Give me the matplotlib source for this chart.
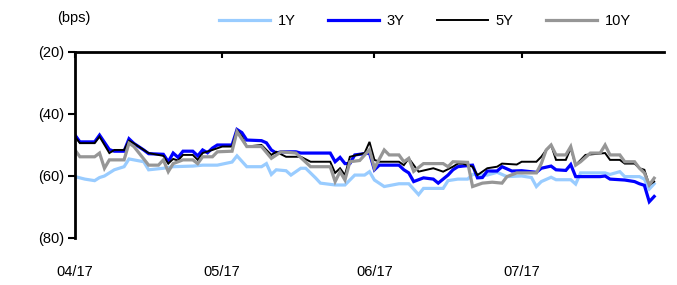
import matplotlib
matplotlib.use("Agg")
import matplotlib.pyplot as plt
import matplotlib.ticker as mticker
import pandas as pd

plt.rcParams['font.family'] = ['Liberation Sans', 'DejaVu Sans']

series_names = ["1Y", "3Y", "5Y", "10Y"]
series_colors = ["#99CCFF", "#0000FF", "#000000", "#969696"]

# ---- 1Y ----
y1_dates = ["2017-04-01", "2017-04-03", "2017-04-05", "2017-04-06", "2017-04-07", "2017-04-09",
            "2017-04-11", "2017-04-12", "2017-04-15", "2017-04-16", "2017-04-19", "2017-04-21",
            "2017-04-25", "2017-04-27", "2017-04-30", "2017-05-03", "2017-05-04", "2017-05-06",
            "2017-05-09", "2017-05-10", "2017-05-11", "2017-05-12", "2017-05-14", "2017-05-15",
            "2017-05-17", "2017-05-18", "2017-05-20", "2017-05-21", "2017-05-24", "2017-05-26",
            "2017-05-28", "2017-05-30", "2017-05-31", "2017-06-01", "2017-06-03", "2017-06-06",
            "2017-06-08", "2017-06-10", "2017-06-11", "2017-06-15", "2017-06-16", "2017-06-18",
            "2017-06-20", "2017-06-21", "2017-06-24", "2017-06-26", "2017-06-28", "2017-07-01",
            "2017-07-03", "2017-07-04", "2017-07-05", "2017-07-07", "2017-07-08", "2017-07-11",
            "2017-07-12", "2017-07-13", "2017-07-18", "2017-07-19", "2017-07-21", "2017-07-22",
            "2017-07-25", "2017-07-26", "2017-07-27", "2017-07-28"]
y1_vals = [-60.2, -61.0, -61.5, -60.5, -60.0, -58.0,
           -57.0, -54.5, -55.4, -58.0, -57.5, -57.0,
           -56.8, -56.5, -56.5, -55.5, -53.5, -57.0,
           -57.0, -56.0, -59.5, -58.0, -58.3, -59.7,
           -57.5, -57.5, -60.6, -62.3, -62.9, -62.9,
           -59.7, -59.7, -58.6, -61.3, -63.4, -62.5,
           -62.5, -66.0, -64.0, -64.0, -61.5, -61.0,
           -61.0, -59.5, -59.7, -58.8, -60.2, -60.0,
           -60.5, -63.4, -61.8, -60.4, -61.2, -61.2,
           -62.6, -59.0, -59.0, -59.5, -58.6, -60.2,
           -60.2, -61.0, -64.2, -62.5]

# ---- 3Y ----
y3_dates = ["2017-04-01", "2017-04-02", "2017-04-05", "2017-04-06", "2017-04-08", "2017-04-09",
            "2017-04-11", "2017-04-12", "2017-04-13", "2017-04-15", "2017-04-16", "2017-04-19",
            "2017-04-20", "2017-04-21", "2017-04-22", "2017-04-23", "2017-04-25", "2017-04-26",
            "2017-04-27", "2017-04-28", "2017-04-29", "2017-04-30", "2017-05-03", "2017-05-04",
            "2017-05-05", "2017-05-06", "2017-05-09", "2017-05-10", "2017-05-11", "2017-05-12",
            "2017-05-13", "2017-05-16", "2017-05-17", "2017-05-23", "2017-05-24", "2017-05-25",
            "2017-05-26", "2017-05-27", "2017-05-28", "2017-05-31", "2017-06-01", "2017-06-02",
            "2017-06-06", "2017-06-07", "2017-06-08", "2017-06-09", "2017-06-11", "2017-06-13",
            "2017-06-14", "2017-06-16", "2017-06-17", "2017-06-18", "2017-06-19", "2017-06-21",
            "2017-06-22", "2017-06-23", "2017-06-24", "2017-06-26", "2017-06-27", "2017-06-29",
            "2017-07-01", "2017-07-04", "2017-07-05", "2017-07-07", "2017-07-08", "2017-07-10",
            "2017-07-11", "2017-07-12", "2017-07-17", "2017-07-18", "2017-07-19", "2017-07-22",
            "2017-07-24", "2017-07-25", "2017-07-26", "2017-07-27", "2017-07-28"]
y3_vals = [-46.8, -49.0, -49.0, -46.8, -51.5, -52.0,
           -52.0, -48.0, -49.5, -51.6, -52.8, -53.0,
           -55.4, -52.6, -54.0, -52.0, -52.0, -53.5,
           -51.6, -52.5, -51.0, -50.0, -50.0, -45.0,
           -46.0, -48.4, -48.6, -49.3, -51.6, -52.6,
           -52.2, -52.2, -52.6, -52.6, -55.4, -54.0,
           -56.0, -56.0, -53.2, -52.6, -58.0, -56.5,
           -56.5, -58.0, -59.0, -61.8, -60.6, -61.0,
           -62.3, -59.7, -58.0, -57.0, -56.8, -56.5,
           -60.6, -60.5, -58.4, -58.4, -57.0, -58.4,
           -58.3, -58.8, -57.5, -56.8, -58.0, -58.2,
           -56.3, -60.2, -60.2, -60.0, -61.0, -61.3,
           -61.8, -62.5, -63.0, -68.3, -66.6]

# ---- 5Y ----
y5_dates = ["2017-04-01", "2017-04-02", "2017-04-05", "2017-04-06", "2017-04-08", "2017-04-09",
            "2017-04-11", "2017-04-12", "2017-04-13", "2017-04-16", "2017-04-19", "2017-04-20",
            "2017-04-21", "2017-04-22", "2017-04-23", "2017-04-25", "2017-04-26", "2017-04-27",
            "2017-04-29", "2017-05-01", "2017-05-03", "2017-05-04", "2017-05-05", "2017-05-06",
            "2017-05-09", "2017-05-11", "2017-05-12", "2017-05-14", "2017-05-17", "2017-05-19",
            "2017-05-23", "2017-05-24", "2017-05-25", "2017-05-26", "2017-05-27", "2017-05-30",
            "2017-05-31", "2017-06-01", "2017-06-02", "2017-06-06", "2017-06-07", "2017-06-08",
            "2017-06-10", "2017-06-13", "2017-06-15", "2017-06-17", "2017-06-18", "2017-06-19",
            "2017-06-21", "2017-06-22", "2017-06-24", "2017-06-26", "2017-06-27", "2017-06-30",
            "2017-07-01", "2017-07-04", "2017-07-05", "2017-07-06", "2017-07-07", "2017-07-08",
            "2017-07-10", "2017-07-11", "2017-07-12", "2017-07-14", "2017-07-18", "2017-07-19",
            "2017-07-21", "2017-07-22", "2017-07-24", "2017-07-25", "2017-07-26", "2017-07-27",
            "2017-07-28"]
y5_vals = [-47.3, -49.4, -49.4, -47.3, -52.6, -51.6,
           -51.6, -48.6, -49.5, -52.6, -53.5, -56.0,
           -54.5, -55.0, -53.2, -53.2, -54.8, -52.6,
           -51.6, -50.5, -50.5, -45.2, -47.3, -50.5,
           -50.0, -53.2, -52.2, -53.8, -53.8, -55.4,
           -55.4, -59.0, -57.5, -59.7, -53.8, -52.6,
           -49.0, -54.8, -55.4, -55.4, -56.5, -54.3,
           -58.6, -57.5, -58.6, -57.0, -56.0, -56.0,
           -57.0, -59.7, -57.5, -57.0, -56.0, -56.3,
           -55.4, -55.4, -53.8, -51.6, -50.0, -54.8,
           -54.8, -51.0, -56.5, -53.2, -52.6, -54.8,
           -54.8, -56.0, -56.0, -57.5, -58.0, -62.9,
           -61.8]

# ---- 10Y ----
y10_dates = ["2017-04-01", "2017-04-02", "2017-04-05", "2017-04-06", "2017-04-07", "2017-04-08",
             "2017-04-11", "2017-04-12", "2017-04-13", "2017-04-16", "2017-04-18", "2017-04-19",
             "2017-04-20", "2017-04-21", "2017-04-23", "2017-04-25", "2017-04-26", "2017-04-27",
             "2017-04-29", "2017-04-30", "2017-05-03", "2017-05-04", "2017-05-06", "2017-05-09",
             "2017-05-11", "2017-05-13", "2017-05-16", "2017-05-19", "2017-05-23", "2017-05-24",
             "2017-05-25", "2017-05-26", "2017-05-27", "2017-05-29", "2017-05-31", "2017-06-01",
             "2017-06-03", "2017-06-04", "2017-06-06", "2017-06-07", "2017-06-08", "2017-06-09",
             "2017-06-11", "2017-06-15", "2017-06-16", "2017-06-17", "2017-06-20", "2017-06-21",
             "2017-06-23", "2017-06-25", "2017-06-27", "2017-06-28", "2017-06-30", "2017-07-04",
             "2017-07-05", "2017-07-06", "2017-07-07", "2017-07-08", "2017-07-10", "2017-07-11",
             "2017-07-12", "2017-07-13", "2017-07-15", "2017-07-17", "2017-07-18", "2017-07-19",
             "2017-07-21", "2017-07-22", "2017-07-24", "2017-07-25", "2017-07-26", "2017-07-27",
             "2017-07-28"]
y10_vals = [-51.6, -53.8, -53.8, -52.6, -57.5, -54.8,
            -54.8, -49.4, -50.5, -56.5, -56.5, -54.8,
            -58.6, -56.0, -54.8, -54.8, -56.0, -53.8,
            -53.8, -52.2, -52.0, -45.7, -50.5, -50.5,
            -54.3, -52.2, -52.6, -57.0, -57.0, -61.8,
            -58.6, -61.3, -55.4, -55.0, -51.5, -57.5,
            -51.6, -53.2, -53.2, -55.4, -54.3, -58.5,
            -56.0, -56.0, -57.0, -55.4, -55.6, -63.4,
            -62.3, -62.0, -62.3, -60.2, -59.0, -59.0,
            -56.0, -51.6, -50.0, -53.2, -53.2, -50.5,
            -56.5, -55.4, -52.6, -52.6, -50.0, -53.2,
            -53.2, -55.4, -55.4, -57.5, -59.0, -62.9,
            -60.7]

x_tick_dates = ["2017-04-01", "2017-05-01", "2017-06-01", "2017-07-01"]
x_tick_labels = ["04/17", "05/17", "06/17", "07/17"]
y_ticks = [-20, -40, -60, -80]

W, H = 677, 285
fig = plt.figure(figsize=(W / 100, H / 100), dpi=100)
ax = fig.add_axes([75 / W, 1 - 238 / H, (664 - 75) / W, (238 - 52) / H])

all_dates = [y1_dates, y3_dates, y5_dates, y10_dates]
all_vals = [y1_vals, y3_vals, y5_vals, y10_vals]
widths = [2.3, 2.3, 1.4, 2.3]
for name, col, d, v, lw in zip(series_names, series_colors, all_dates, all_vals, widths):
    ax.plot(pd.to_datetime(d), v, color=col, lw=lw, label=name, solid_joinstyle='miter')

ax.set_xlim(pd.Timestamp("2017-04-01"), pd.Timestamp("2017-07-30"))
ax.set_ylim(-80, -20)

ax.set_xticks(pd.to_datetime(x_tick_dates))
ax.set_xticklabels(x_tick_labels)
ax.set_yticks(y_ticks)
ax.yaxis.set_major_formatter(mticker.FuncFormatter(lambda v, p: f"({abs(v):.0f})"))

for s in ["right", "bottom"]:
    ax.spines[s].set_visible(False)
for s in ["left", "top"]:
    ax.spines[s].set_linewidth(2)
    ax.spines[s].set_color("black")

ax.tick_params(axis='x', bottom=False, top=True, direction='in', length=4, width=1.5,
               labelbottom=True, labeltop=False, pad=19.5, labelsize=10.5)
ax.tick_params(axis='y', left=True, direction='out', length=5, width=1.5, pad=3, labelsize=10.5)

fig.text(57 / W, 1 - 18 / H, "(bps)", fontsize=10.5, ha='left', va='center')

leg = fig.legend(loc='center', bbox_to_anchor=(425 / W, 1 - 21 / H), ncol=4, frameon=False,
                 fontsize=10.5, handlelength=3.5, handletextpad=0.5, columnspacing=2.25)

fig.savefig("out.png", dpi=100)
